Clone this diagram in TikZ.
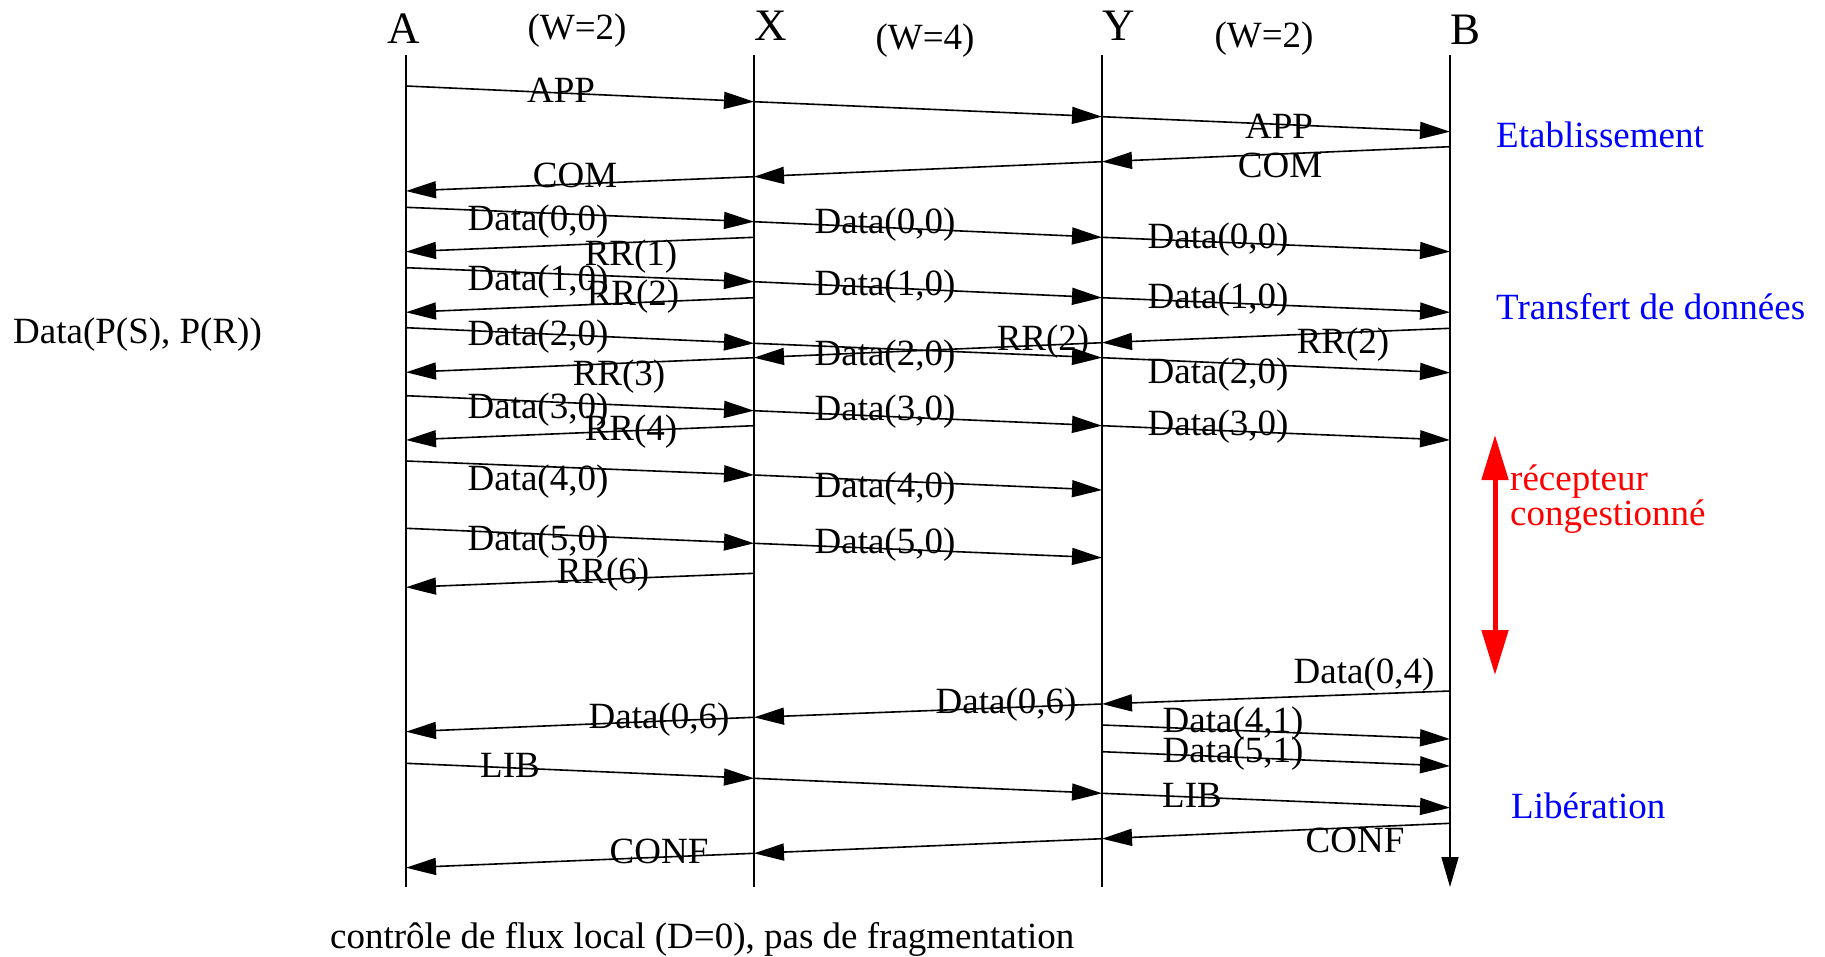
\documentclass[tikz,border=0pt]{standalone}
\usepackage{fontspec}
\setmainfont{Liberation Serif}
\usetikzlibrary{arrows.meta}
\begin{document}
\begin{tikzpicture}[x=1pt,y=-1pt,
  lbl/.style={font=\fontsize{37}{40}\selectfont, inner sep=0pt, anchor=base},
  hdr/.style={font=\fontsize{45}{48}\selectfont, inner sep=0pt, anchor=base},
  side/.style={lbl, anchor=base west, text=blue},
  redlbl/.style={lbl, anchor=base west, text=red},
  msg/.style={line width=1.6pt, -{Triangle[length=30pt,width=17pt]}},
  life/.style={line width=1.4pt},
  congest/.style={line width=5pt, red, {Triangle[length=45pt,width=26pt]}-{Triangle[length=45pt,width=26pt]}}]
\useasboundingbox (0,0) rectangle (1825,956);

% headers
\node[hdr] (hA) at (404,43) {A};
\node[hdr] (hX) at (771,40) {X};
\node[hdr] (hY) at (1119,40) {Y};
\node[hdr] (hB) at (1465,44) {B};
\node[lbl] (w1) at (577,39) {(W=2)};
\node[lbl] (w2) at (925,49) {(W=4)};
\node[lbl] (w3) at (1264,47) {(W=2)};

% lifelines
\coordinate (At) at (406,55); \coordinate (Ab) at (406,887);
\coordinate (Xt) at (754,55); \coordinate (Xb) at (754,887);
\coordinate (Yt) at (1102,55); \coordinate (Yb) at (1102,887);
\coordinate (Bt) at (1450,55); \coordinate (Bb) at (1450,887);
\draw[life] (At) -- (Ab);
\draw[life] (Xt) -- (Xb);
\draw[life] (Yt) -- (Yb);
\draw[msg] (Bt) -- (Bb);

% APP
\coordinate (m1a) at (406,86); \coordinate (m1x) at (754,101.7);
\coordinate (m1y) at (1102,116.7); \coordinate (m1b) at (1450,131.7);
\draw[msg] (m1a) -- (m1x); \draw[msg] (m1x) -- (m1y); \draw[msg] (m1y) -- (m1b);
% COM
\coordinate (m2b) at (1450,146.7); \coordinate (m2y) at (1102,161.7);
\coordinate (m2x) at (754,176.7); \coordinate (m2a) at (406,191);
\draw[msg] (m2b) -- (m2y); \draw[msg] (m2y) -- (m2x); \draw[msg] (m2x) -- (m2a);
% Data(0,0)
\coordinate (m3a) at (406,207.3); \coordinate (m3x) at (754,221.7);
\coordinate (m3y) at (1102,237.3); \coordinate (m3b) at (1450,251.7);
\draw[msg] (m3a) -- (m3x); \draw[msg] (m3x) -- (m3y); \draw[msg] (m3y) -- (m3b);
% RR(1)
\coordinate (m4x) at (754,237.3); \coordinate (m4a) at (406,251.7);
\draw[msg] (m4x) -- (m4a);
% Data(1,0)
\coordinate (m5a) at (406,267.7); \coordinate (m5x) at (754,281.7);
\coordinate (m5y) at (1102,297.7); \coordinate (m5b) at (1450,312.3);
\draw[msg] (m5a) -- (m5x); \draw[msg] (m5x) -- (m5y); \draw[msg] (m5y) -- (m5b);
% RR(2)
\coordinate (m6x) at (754,297.7); \coordinate (m6a) at (406,312.3);
\draw[msg] (m6x) -- (m6a);
% Data(2,0)
\coordinate (m7a) at (406,327.7); \coordinate (m7x) at (754,343.3);
\coordinate (m7y) at (1102,357.7); \coordinate (m7b) at (1450,372.7);
\draw[msg] (m7a) -- (m7x); \draw[msg] (m7x) -- (m7y); \draw[msg] (m7y) -- (m7b);
% RR(2) / RR(3)
\coordinate (m8b) at (1450,328.3); \coordinate (m8y) at (1102,342.7);
\coordinate (m8x) at (754,357.7); \coordinate (m8a) at (406,372.3);
\draw[msg] (m8b) -- (m8y); \draw[msg] (m8y) -- (m8x); \draw[msg] (m8x) -- (m8a);
% Data(3,0)
\coordinate (m9a) at (406,395.7); \coordinate (m9x) at (754,410.7);
\coordinate (m9y) at (1102,425.7); \coordinate (m9b) at (1450,440);
\draw[msg] (m9a) -- (m9x); \draw[msg] (m9x) -- (m9y); \draw[msg] (m9y) -- (m9b);
% RR(4)
\coordinate (m10x) at (754,425.7); \coordinate (m10a) at (406,440);
\draw[msg] (m10x) -- (m10a);
% Data(4,0)
\coordinate (m11a) at (406,461); \coordinate (m11x) at (754,475);
\coordinate (m11y) at (1102,490);
\draw[msg] (m11a) -- (m11x); \draw[msg] (m11x) -- (m11y);
% Data(5,0)
\coordinate (m12a) at (406,528.3); \coordinate (m12x) at (754,543.3);
\coordinate (m12y) at (1102,557.7);
\draw[msg] (m12a) -- (m12x); \draw[msg] (m12x) -- (m12y);
% RR(6)
\coordinate (m13x) at (754,573.3); \coordinate (m13a) at (406,587.3);
\draw[msg] (m13x) -- (m13a);
% Data(0,4) / Data(0,6)
\coordinate (m14b) at (1450,691); \coordinate (m14y) at (1102,704);
\coordinate (m14x) at (754,717.3); \coordinate (m14a) at (406,731.7);
\draw[msg] (m14b) -- (m14y); \draw[msg] (m14y) -- (m14x); \draw[msg] (m14x) -- (m14a);
% Data(4,1), Data(5,1)
\coordinate (m15y) at (1102,725); \coordinate (m15b) at (1450,739);
\draw[msg] (m15y) -- (m15b);
\coordinate (m16y) at (1102,751.7); \coordinate (m16b) at (1450,766);
\draw[msg] (m16y) -- (m16b);
% LIB
\coordinate (m17a) at (406,763.3); \coordinate (m17x) at (754,778.3);
\coordinate (m17y) at (1102,793.3); \coordinate (m17b) at (1450,807.7);
\draw[msg] (m17a) -- (m17x); \draw[msg] (m17x) -- (m17y); \draw[msg] (m17y) -- (m17b);
% CONF
\coordinate (m18b) at (1450,823.3); \coordinate (m18y) at (1102,838.7);
\coordinate (m18x) at (754,853.3); \coordinate (m18a) at (406,867.7);
\draw[msg] (m18b) -- (m18y); \draw[msg] (m18y) -- (m18x); \draw[msg] (m18x) -- (m18a);

% message labels
\node[lbl] (tAPP1) at (561,102) {APP};
\node[lbl] (tAPP2) at (1279,138) {APP};
\node[lbl] (tCOM2) at (1280,177) {COM};
\node[lbl] (tCOM1) at (575,187) {COM};
\node[lbl] (t00a) at (538,230) {Data(0,0)};
\node[lbl] (t00b) at (885,233) {Data(0,0)};
\node[lbl] (t00c) at (1218,248) {Data(0,0)};
\node[lbl] (tRR1) at (631,265) {RR(1)};
\node[lbl] (t10a) at (538,290) {Data(1,0)};
\node[lbl] (tRR2) at (633,305) {RR(2)};
\node[lbl] (t10b) at (885,295) {Data(1,0)};
\node[lbl] (t10c) at (1218,308) {Data(1,0)};
\node[lbl] (t20a) at (538,345) {Data(2,0)};
\node[lbl] (t20b) at (885,365) {Data(2,0)};
\node[lbl] (tRR2m) at (1043,350) {RR(2)};
\node[lbl] (tRR2r) at (1343,353) {RR(2)};
\node[lbl] (t20c) at (1218,383) {Data(2,0)};
\node[lbl] (tRR3) at (619,385) {RR(3)};
\node[lbl] (t30a) at (538,418) {Data(3,0)};
\node[lbl] (tRR4) at (631,440) {RR(4)};
\node[lbl] (t30b) at (885,420) {Data(3,0)};
\node[lbl] (t30c) at (1218,435) {Data(3,0)};
\node[lbl] (t40a) at (538,490) {Data(4,0)};
\node[lbl] (t40b) at (885,497) {Data(4,0)};
\node[lbl] (t50a) at (538,550) {Data(5,0)};
\node[lbl] (t50b) at (885,553) {Data(5,0)};
\node[lbl] (tRR6) at (603,583) {RR(6)};
\node[lbl] (t04) at (1364,683) {Data(0,4)};
\node[lbl] (t06b) at (1006,713) {Data(0,6)};
\node[lbl] (t06a) at (659,728) {Data(0,6)};
\node[lbl] (t41) at (1233,732) {Data(4,1)};
\node[lbl] (t51) at (1233,762) {Data(5,1)};
\node[lbl] (tLIB1) at (510,777) {LIB};
\node[lbl] (tLIB2) at (1192,807) {LIB};
\node[lbl] (tCONF1) at (659,863) {CONF};
\node[lbl] (tCONF2) at (1355,852) {CONF};

% side labels
\node[side] (etab) at (1496,147) {Etablissement};
\node[side] (transf) at (1496,319) {Transfert de données};
\node[side] (lib) at (1511,818) {Libération};
\coordinate (rTop) at (1495,435); \coordinate (rBot) at (1495,675);
\draw[congest] (rTop) -- (rBot);
\node[redlbl] (rec1) at (1510,490) {récepteur};
\node[redlbl] (rec2) at (1510,525) {congestionné};

\node[lbl, anchor=base west] (fmt) at (13,343) {Data(P(S), P(R))};
\node[lbl, anchor=base west] (cap) at (330,948) {contrôle de flux local (D=0), pas de fragmentation};
\end{tikzpicture}
\end{document}
